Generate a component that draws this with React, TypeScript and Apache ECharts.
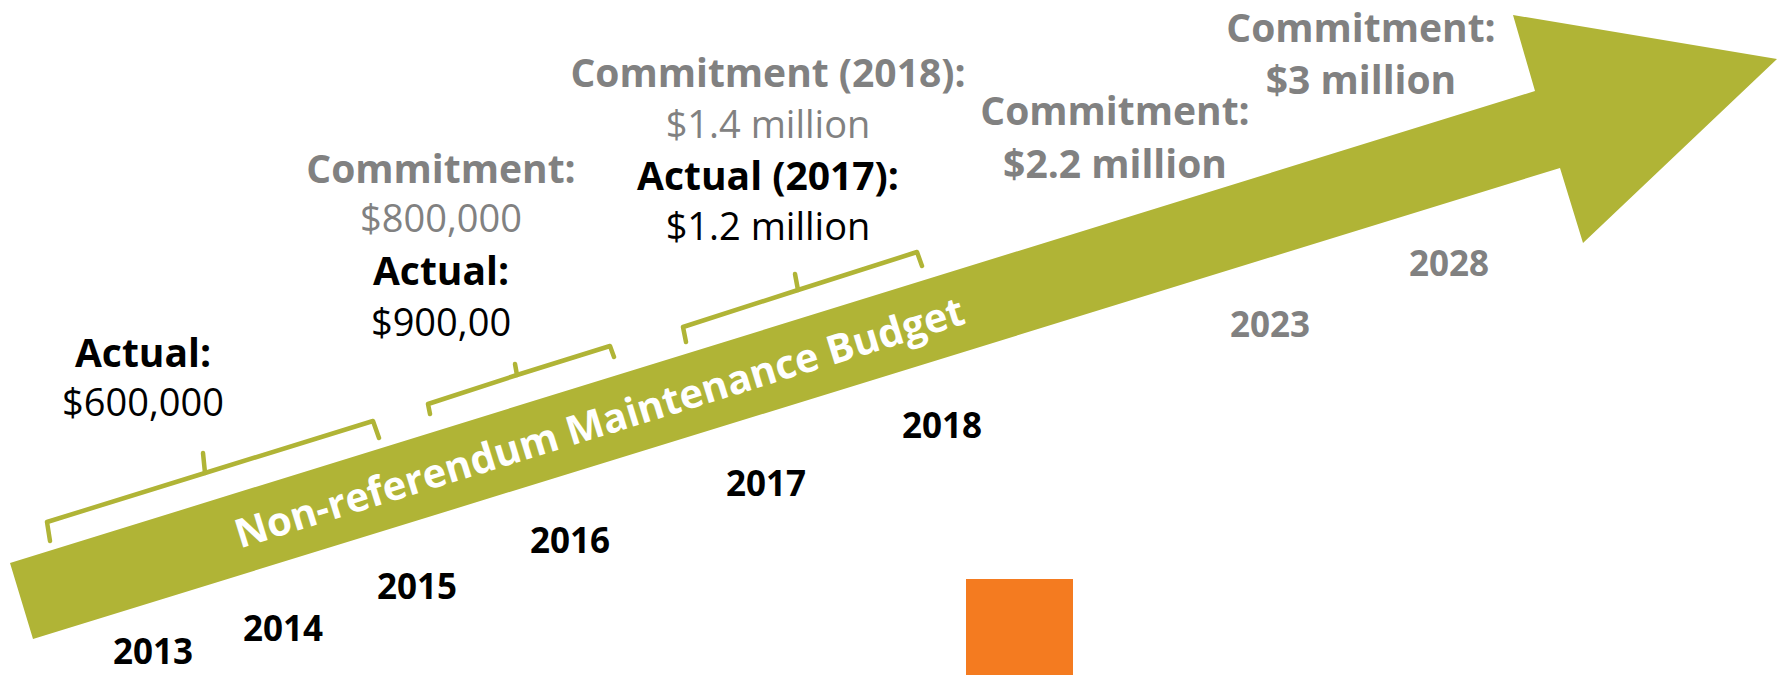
import { useEffect, useRef } from "react";
import * as echarts from "echarts";

// ---- content ----
const years = ["2013", "2014", "2015", "2016", "2017", "2018", "2023", "2028"];
const lastActualYear = 2018;
const actualLabels = ["Actual:", "Actual:", "Actual (2017):"];
const actualAmounts = ["$600,000", "$900,00", "$1.2 million"];
const commitmentLabels = ["Commitment:", "Commitment (2018):", "Commitment:", "Commitment:"];
const commitmentAmounts = ["$800,000", "$1.4 million", "$2.2 million", "$3 million"];
const budgetLabel = "Non-referendum Maintenance Budget";

// ---- layout (pixels) ----
const yearPos = [
  [153, 650], [283, 627], [417, 585], [570, 539],
  [766, 482], [942, 424], [1270, 323], [1449, 262],
];
const actualPos = [[143, 351, 401], [441, 269, 321], [768, 174, 225]];
const commitmentPos = [[441, 167, 217], [768, 71, 123], [1115, 109, 162], [1361, 26, 78]];
const commitmentAmountBold = [false, false, true, true];
const arrowPoints = [
  [10, 563], [1535, 91], [1513, 15], [1777, 59], [1583, 243], [1560, 168], [33, 639],
];
const bracketLines = [
  [[50, 541], [47, 522], [205, 473], [373, 421], [379, 438]],
  [[430, 414], [428, 404], [517, 375], [610, 346], [614, 357]],
  [[686, 342], [683, 327], [798, 290], [917, 252], [922, 266]],
];
const bracketTicks = [
  [[205, 473], [203, 453]],
  [[517, 375], [515, 364]],
  [[798, 290], [795, 274]],
];

const OLIVE = "#B0B436";
const GREY = "#818181";
const BLACK = "#000000";
const FONT = "'Open Sans', 'Noto Sans', sans-serif";

function txt(x: number, y: number, text: string, size: number, weight: string, color: string, extra: any = {}) {
  return {
    type: "text",
    x,
    y,
    ...extra,
    style: {
      text,
      fill: color,
      fontSize: size,
      fontWeight: weight,
      fontFamily: FONT,
      align: "center",
      verticalAlign: "middle",
      textAlign: "center",
      textVerticalAlign: "middle",
    },
  };
}

export default function App() {
  const ref = useRef<HTMLDivElement>(null);
  useEffect(() => {
    if (!ref.current) return;
    const chart = echarts.init(ref.current, undefined, { renderer: "svg" });
    const elements: any[] = [];

    elements.push({
      type: "polygon",
      shape: { points: arrowPoints },
      style: { fill: OLIVE },
    });

    bracketLines.forEach((pts) =>
      elements.push({
        type: "polyline",
        shape: { points: pts },
        style: { stroke: OLIVE, lineWidth: 4.5, fill: null, lineJoin: "round", lineCap: "round" },
      })
    );
    bracketTicks.forEach((pts) =>
      elements.push({
        type: "polyline",
        shape: { points: pts },
        style: { stroke: OLIVE, lineWidth: 4.5, fill: null, lineJoin: "round", lineCap: "round" },
      })
    );

    elements.push(txt(599, 421, budgetLabel, 40, "bold", "#ffffff", { rotation: Math.atan(0.31) }));

    years.forEach((y, i) => {
      const color = Number(y) <= lastActualYear ? BLACK : GREY;
      elements.push(txt(yearPos[i][0], yearPos[i][1], y, 35, "bold", color));
    });

    actualLabels.forEach((l, i) => {
      const [x, y1, y2] = actualPos[i];
      elements.push(txt(x, y1, l, 39, "bold", BLACK));
      elements.push(txt(x, y2, actualAmounts[i], 38, "normal", BLACK));
    });

    commitmentLabels.forEach((l, i) => {
      const [x, y1, y2] = commitmentPos[i];
      elements.push(txt(x, y1, l, 39, "bold", GREY));
      elements.push(
        txt(x, y2, commitmentAmounts[i], commitmentAmountBold[i] ? 39 : 38, commitmentAmountBold[i] ? "bold" : "normal", GREY)
      );
    });

    elements.push({
      type: "rect",
      shape: { x: 966, y: 579, width: 107, height: 100 },
      style: { fill: "#F47B20" },
    });

    chart.setOption({
      animation: false,
      backgroundColor: "#ffffff",
      graphic: { elements },
    });
    return () => chart.dispose();
  }, []);
  return (
    <div
      ref={ref}
      style={{ position: "absolute", left: 0, top: 0, width: 1784, height: 675, background: "#fff" }}
    />
  );
}
